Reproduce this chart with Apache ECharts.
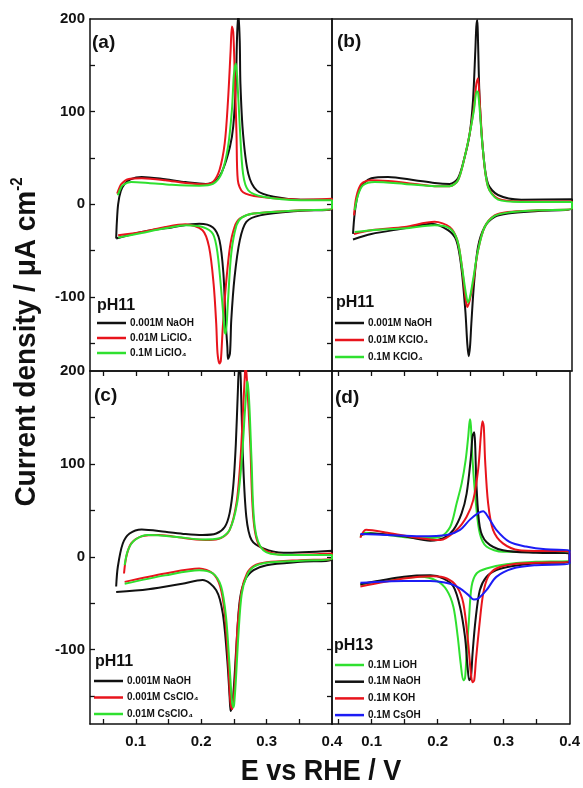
<!DOCTYPE html>
<html lang="en">
<head>
    <meta charset="UTF-8">
    <title>CV pH11 / pH13</title>
    <script src="https://cdn.jsdelivr.net/npm/echarts@6/dist/echarts.min.js"></script>
    <style>
        html, body { margin: 0; padding: 0; background: #fff; }
    </style>
</head>
<body>

<div id="chart" style="width: 583px;height: 788px"></div>

<script>
    // E (V vs RHE), j (uA cm-2): anodic sweep up to 0.4 V, then cathodic sweep back

    // (a) pH11, Li
    var aNaOH = [[0.070,-37],[0.071,-20],[0.073,0],[0.077,14],[0.083,22],[0.092,27],[0.109,29.5],[0.145,27],[0.176,24],[0.207,22],[0.223,26],[0.233,37],[0.244,62],[0.249,84],[0.253,130],[0.255,184],[0.257,206],[0.259,175],[0.260,130],[0.264,76],[0.272,33],[0.285,15],[0.311,8],[0.352,5],[0.4,5],
        [0.4,-5],[0.352,-7],[0.290,-12],[0.269,-19],[0.259,-39],[0.251,-79],[0.246,-125],[0.244,-161],[0.241,-167],[0.240,-154],[0.237,-122],[0.234,-75],[0.228,-39],[0.218,-25],[0.197,-21],[0.155,-25],[0.109,-30],[0.070,-37]];
    var aLi001 = [[0.0715,11.5],[0.075,18],[0.078,22],[0.088,27],[0.109,28],[0.145,26],[0.176,23],[0.207,21.6],[0.218,24],[0.228,37],[0.236,66],[0.241,112],[0.245,166],[0.247,192],[0.249,186],[0.251,148],[0.254,76],[0.256,26],[0.264,13],[0.290,8],[0.352,5],[0.4,6],
        [0.4,-5],[0.352,-6.5],[0.280,-10],[0.259,-15.5],[0.251,-24.5],[0.244,-46],[0.238,-86],[0.233,-133],[0.230,-169],[0.228,-172],[0.225,-161],[0.223,-129],[0.219,-86],[0.212,-46],[0.202,-28],[0.176,-21.6],[0.145,-24.5],[0.109,-30],[0.073,-33.5]];
    var aLi01 = [[0.0725,9.7],[0.076,16],[0.080,20.5],[0.093,24],[0.119,23],[0.155,21],[0.197,20],[0.218,22],[0.231,33],[0.241,62],[0.247,102],[0.250,140],[0.253,152],[0.255,138],[0.259,84],[0.264,33],[0.272,15],[0.295,8],[0.352,4.3],[0.4,4.3],
        [0.4,-4.7],[0.352,-6.5],[0.280,-10],[0.262,-14.4],[0.254,-22.7],[0.246,-53],[0.241,-104],[0.2375,-140],[0.236,-138],[0.232,-104],[0.225,-53],[0.218,-32],[0.202,-24.5],[0.176,-22.7],[0.145,-26],[0.109,-31],[0.073,-36]];

    // (b) pH11, K
    var bNaOH = [[0.0715,-32],[0.074,-10],[0.079,11.5],[0.0865,22],[0.099,28],[0.124,29.5],[0.164,26],[0.194,23],[0.2165,22],[0.229,28],[0.239,51],[0.2465,76],[0.2515,112],[0.255,166],[0.2565,192],[0.258,199],[0.259,177],[0.2615,112],[0.2665,58],[0.274,22],[0.289,10],[0.324,5],[0.4,5.4],
        [0.4,-4.7],[0.349,-7.2],[0.304,-10],[0.284,-13.7],[0.269,-24.5],[0.259,-46],[0.253,-86],[0.249,-129],[0.247,-154],[0.245,-164],[0.243,-151],[0.240,-115],[0.234,-68],[0.2265,-39],[0.214,-28],[0.189,-21],[0.149,-26],[0.099,-32],[0.0715,-38]];
    var bK001 = [[0.073,-12],[0.0765,8],[0.084,22],[0.099,26],[0.124,25],[0.164,22],[0.194,19.5],[0.2165,19.5],[0.229,26],[0.239,51],[0.2465,76],[0.253,105],[0.2565,130],[0.259,136],[0.2615,112],[0.2665,58],[0.274,19],[0.289,6],[0.324,3],[0.4,3],
        [0.4,-4.7],[0.349,-6.5],[0.304,-8.3],[0.284,-12],[0.269,-24.5],[0.259,-50],[0.2515,-86],[0.2465,-104],[0.243,-111],[0.240,-100],[0.235,-68],[0.228,-39],[0.2165,-24.5],[0.194,-19],[0.149,-24.5],[0.099,-28],[0.073,-32]];
    var bK01 = [[0.074,-6.5],[0.079,9.7],[0.0865,20.5],[0.104,24],[0.149,22],[0.194,19.5],[0.2165,19.5],[0.229,26],[0.239,51],[0.2465,76],[0.253,102],[0.257,122],[0.259,121],[0.262,98],[0.2665,58],[0.274,19],[0.289,5],[0.324,2.5],[0.4,2.5],
        [0.4,-4.7],[0.349,-6.5],[0.304,-9],[0.284,-12.6],[0.269,-24.5],[0.259,-50],[0.2515,-82],[0.247,-100],[0.244,-106],[0.241,-97],[0.235,-68],[0.228,-39],[0.2165,-26],[0.194,-22.7],[0.149,-26],[0.099,-28],[0.074,-30]];

    // (c) pH11, Cs
    var cNaOH = [[0.070,-32],[0.0725,-11],[0.080,14],[0.0905,25],[0.109,29.5],[0.145,27],[0.176,24.5],[0.202,23.4],[0.223,25],[0.236,32],[0.2435,47],[0.249,76],[0.253,122],[0.256,177],[0.258,205],[0.260,198],[0.261,177],[0.264,104],[0.269,43],[0.277,18],[0.295,9],[0.326,4.3],[0.4,6.5],
        [0.4,-3],[0.352,-5.4],[0.300,-9],[0.280,-14.4],[0.267,-25],[0.259,-47],[0.254,-94],[0.250,-140],[0.247,-162],[0.245,-166],[0.2435,-151],[0.240,-112],[0.233,-61],[0.223,-36],[0.202,-25],[0.171,-29],[0.119,-35],[0.070,-38]];
    var cCs0001 = [[0.082,-18],[0.0855,0],[0.093,14.4],[0.109,22],[0.135,23.4],[0.176,20],[0.212,18],[0.230,20],[0.2435,29],[0.254,58],[0.260,104],[0.264,158],[0.267,198],[0.268,206],[0.270,190],[0.275,122],[0.280,40],[0.290,11],[0.326,2],[0.4,3.6],
        [0.4,-2],[0.352,-3.6],[0.300,-6],[0.280,-10],[0.270,-18],[0.262,-36],[0.2555,-76],[0.252,-130],[0.249,-158],[0.247,-164],[0.2445,-155],[0.2415,-115],[0.236,-61],[0.229,-32],[0.218,-18],[0.197,-12.6],[0.145,-18],[0.083,-27]];
    var cCs001 = [[0.083,-9],[0.088,7],[0.0985,18],[0.119,23.4],[0.160,21.6],[0.202,18.7],[0.228,20],[0.2435,29],[0.255,58],[0.262,104],[0.267,158],[0.270,187],[0.271,189],[0.274,158],[0.277,104],[0.282,32],[0.295,7],[0.326,2],[0.4,2],
        [0.4,-2],[0.352,-4.3],[0.300,-6.5],[0.280,-11],[0.270,-20],[0.262,-40],[0.257,-83],[0.253,-133],[0.2505,-158],[0.249,-162],[0.247,-155],[0.2435,-119],[0.238,-65],[0.2305,-32],[0.218,-18],[0.197,-14.4],[0.145,-20],[0.083,-29]];

    // (d) pH13
    var dLiOH = [[0.083,21.6],[0.089,26],[0.124,23.4],[0.174,20],[0.204,21.6],[0.219,32],[0.229,58],[0.2365,79],[0.2425,104],[0.2465,130],[0.249,148],[0.2505,141],[0.253,104],[0.258,58],[0.264,25],[0.274,11],[0.299,5.4],[0.4,5.4],
        [0.4,-3.6],[0.349,-5.4],[0.304,-8],[0.274,-12.6],[0.259,-18],[0.2515,-32],[0.2475,-68],[0.244,-104],[0.2415,-131],[0.239,-133],[0.235,-115],[0.2305,-86],[0.224,-54],[0.214,-36],[0.199,-26],[0.174,-21.6],[0.124,-25],[0.083,-30]];
    var dNaOH = [[0.083,23.4],[0.099,25],[0.149,22],[0.189,17.3],[0.209,20],[0.224,29],[0.2365,47],[0.244,68],[0.250,104],[0.253,130],[0.2555,134],[0.257,119],[0.259,76],[0.264,32],[0.274,16],[0.299,7],[0.349,4.3],[0.4,3.6],
        [0.4,-5.4],[0.349,-7],[0.314,-10],[0.289,-14.4],[0.274,-21.6],[0.264,-36],[0.2575,-68],[0.253,-104],[0.2505,-130],[0.248,-133],[0.2455,-119],[0.2415,-86],[0.234,-54],[0.224,-32],[0.209,-23.4],[0.189,-20],[0.149,-21.6],[0.083,-29.5]];
    var dKOH = [[0.083,20.5],[0.0915,29],[0.124,26],[0.174,20],[0.204,18],[0.229,29],[0.244,43],[0.254,61],[0.2615,94],[0.2655,130],[0.268,146],[0.270,140],[0.272,104],[0.2765,58],[0.284,29],[0.299,14.4],[0.324,7],[0.4,5.4],
        [0.4,-5.4],[0.349,-6.5],[0.314,-8],[0.289,-12.6],[0.2765,-21.6],[0.269,-40],[0.263,-76],[0.258,-112],[0.2555,-133],[0.253,-135],[0.2505,-126],[0.2465,-94],[0.239,-50],[0.229,-32],[0.214,-23.4],[0.194,-21],[0.149,-23.4],[0.083,-32]];
    var dCsOH = [[0.083,24.5],[0.124,23.4],[0.174,22],[0.214,23.4],[0.234,29],[0.249,40],[0.2615,47],[0.269,49],[0.2765,43],[0.289,29],[0.309,16],[0.334,11],[0.364,8],[0.4,7],
        [0.4,-7],[0.349,-9],[0.314,-12.6],[0.289,-21.6],[0.274,-36],[0.2615,-45],[0.255,-46],[0.2465,-41],[0.234,-34],[0.219,-29],[0.189,-26],[0.149,-26],[0.083,-28]];

    var xLabels = [0.1, 0.2, 0.3, 0.4];
    var xTicks = [0.05, 0.1, 0.15, 0.2, 0.25, 0.3, 0.35];
    var yLabels = [-100, 0, 100, 200];
    var yTicks = [-150, -100, -50, 0, 50, 100, 150];

    var BLACK = '#111111', RED = '#e8141c', GREEN = '#2fe02f', BLUE = '#1c1cf5';
    var FONT = '"Liberation Sans", Arial, Helvetica, sans-serif';

    var grids = [
        {left: 90, top: 19, width: 242, height: 352},
        {left: 332, top: 19, width: 240, height: 352},
        {left: 90, top: 371, width: 242, height: 353},
        {left: 332, top: 371, width: 240, height: 353}
    ];
    var xMin = [0.03, 0.04, 0.03, 0.04];

    var axisLine = {show: true, onZero: false, lineStyle: {color: BLACK, width: 1.5}};
    function ticks(on, vals) {
        return {show: on, inside: true, length: 5, customValues: vals, lineStyle: {color: BLACK, width: 1.3}};
    }

    var xAxes = [], yAxes = [];
    for (var g = 0; g < 4; g++) {
        var bottomRow = g >= 2, leftCol = g % 2 === 0;
        // bottom
        xAxes.push({
            type: 'value', gridIndex: g, position: 'bottom', min: xMin[g], max: 0.4,
            axisLine: axisLine, splitLine: {show: false},
            axisTick: ticks(bottomRow, xTicks),
            axisLabel: {show: bottomRow, customValues: xLabels, margin: 10, fontSize: 15, fontWeight: 'bold', color: BLACK, fontFamily: FONT}
        });
        // top
        xAxes.push({
            type: 'value', gridIndex: g, position: 'top', min: xMin[g], max: 0.4,
            axisLine: axisLine, splitLine: {show: false},
            axisTick: ticks(bottomRow, xTicks), axisLabel: {show: false}
        });
        // left
        yAxes.push({
            type: 'value', gridIndex: g, position: 'left', min: -180, max: 200,
            axisLine: axisLine, splitLine: {show: false},
            axisTick: ticks(leftCol, yTicks),
            axisLabel: {show: leftCol, customValues: yLabels, margin: 5, fontSize: 15, fontWeight: 'bold', color: BLACK, fontFamily: FONT}
        });
        // right
        yAxes.push({
            type: 'value', gridIndex: g, position: 'right', min: -180, max: 200,
            axisLine: axisLine, splitLine: {show: false},
            axisTick: ticks(leftCol, yTicks), axisLabel: {show: false}
        });
    }

    function cv(name, data, color, g) {
        return {
            name: name, type: 'line', data: data,
            xAxisIndex: g * 2, yAxisIndex: g * 2,
            showSymbol: false, symbol: 'none', smooth: 0.3,
            itemStyle: {color: color},
            lineStyle: {color: color, width: 2},
            silent: true
        };
    }

    var series = [
        cv('0.001M NaOH', aNaOH, BLACK, 0),
        cv('0.01M LiClO₄', aLi001, RED, 0),
        cv('0.1M LiClO₄', aLi01, GREEN, 0),
        cv('0.001M NaOH', bNaOH, BLACK, 1),
        cv('0.01M KClO₄', bK001, RED, 1),
        cv('0.1M KClO₄', bK01, GREEN, 1),
        cv('0.001M NaOH', cNaOH, BLACK, 2),
        cv('0.001M CsClO₄', cCs0001, RED, 2),
        cv('0.01M CsClO₄', cCs001, GREEN, 2),
        cv('0.1M LiOH', dLiOH, GREEN, 3),
        cv('0.1M NaOH', dNaOH, BLACK, 3),
        cv('0.1M KOH', dKOH, RED, 3),
        cv('0.1M CsOH', dCsOH, BLUE, 3)
    ];

    function legend(names, left, top, gap) {
        return {
            data: names, orient: 'vertical', left: left, top: top, padding: 0,
            icon: 'rect', itemWidth: 29, itemHeight: 2.5, itemGap: gap,
            selectedMode: false,
            textStyle: {fontSize: 10, fontWeight: 'bold', color: BLACK, fontFamily: FONT, lineHeight: 12, padding: [0, 0, 0, -1]}
        };
    }

    function label(text, x, y, size) {
        return {type: 'text', x: x, y: y, style: {text: text, fontSize: size, fontWeight: 'bold', fontFamily: FONT, fill: BLACK, align: 'left', verticalAlign: 'middle'}};
    }

    var option = {
        animation: false,
        backgroundColor: '#fff',
        grid: grids,
        xAxis: xAxes,
        yAxis: yAxes,
        series: series,
        legend: [
            legend(['0.001M NaOH', '0.01M LiClO₄', '0.1M LiClO₄'], 97, 317, 3),
            legend(['0.001M NaOH', '0.01M KClO₄', '0.1M KClO₄'], 335, 317, 5),
            legend(['0.001M NaOH', '0.001M CsClO₄', '0.01M CsClO₄'], 94, 675, 4.5),
            legend(['0.1M LiOH', '0.1M NaOH', '0.1M KOH', '0.1M CsOH'], 335, 659, 4.7)
        ],
        graphic: [
            label('(a)', 92, 43, 19),
            label('(b)', 337, 42, 19),
            label('(c)', 94, 396, 19),
            label('(d)', 335, 398, 19),
            label('pH11', 97, 306, 16),
            label('pH11', 336, 303, 16),
            label('pH11', 95, 662, 16),
            label('pH13', 334, 646, 16),
            {
                type: 'text', x: 27, y: 342, rotation: Math.PI / 2, scaleY: 1.08,
                style: {
                    text: '{m|Current density / μA cm}{s|-2}',
                    align: 'center', verticalAlign: 'middle', fill: BLACK,
                    rich: {
                        m: {fontSize: 28, fontWeight: 'bold', fontFamily: FONT, fill: BLACK, lineHeight: 32},
                        s: {fontSize: 15, fontWeight: 'bold', fontFamily: FONT, fill: BLACK, verticalAlign: 'top', lineHeight: 32}
                    }
                }
            },
            {
                type: 'text', x: 321, y: 772, scaleY: 1.12,
                style: {text: 'E vs RHE / V', fontSize: 27, fontWeight: 'bold', fontFamily: FONT, fill: BLACK, align: 'center', verticalAlign: 'middle'}
            }
        ]
    };

    var myChart = echarts.init(document.getElementById('chart'));
    myChart.setOption(option);
</script>

</body>
</html>
